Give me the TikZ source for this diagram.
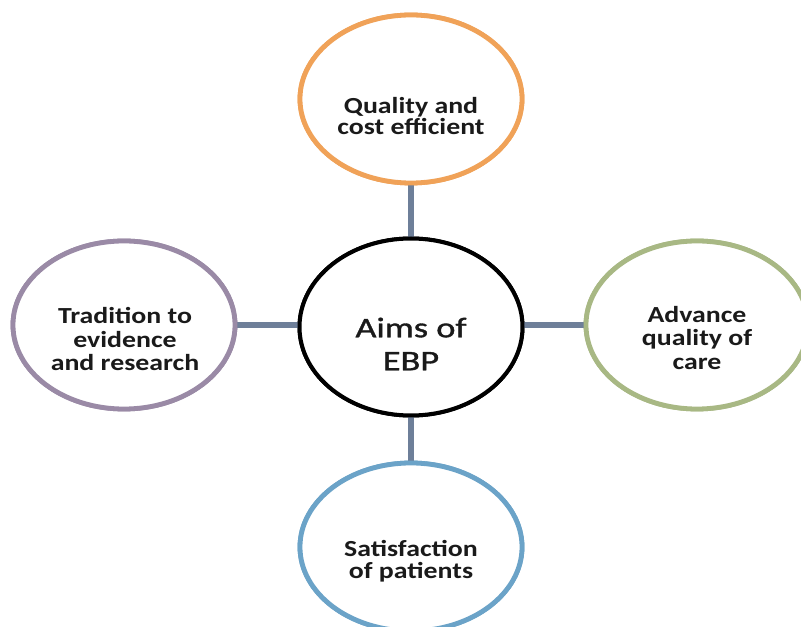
\documentclass[tikz,border=0pt]{standalone}
\usepackage{fontspec}
\usetikzlibrary{shapes.geometric}
\newfontfamily\outerfont[FakeStretch=1.21]{Carlito}
\newfontfamily\centerfont[FakeStretch=1.28,FakeBold=1.2]{Carlito}
\definecolor{conn}{HTML}{6E7F99}
\definecolor{orangeo}{HTML}{F0A258}
\definecolor{purpleo}{HTML}{9A8AA6}
\definecolor{greeno}{HTML}{A8B884}
\definecolor{blueo}{HTML}{6BA3C8}
\definecolor{txt}{HTML}{1A1A1A}
\tikzset{
  bubble/.style={ellipse, draw, line width=3.6pt, fill=white, minimum width=166.5pt, minimum height=126pt, inner sep=0pt, outer sep=0pt},
  hub/.style={ellipse, draw=black, line width=3pt, fill=white, minimum width=167.25pt, minimum height=132.75pt, inner sep=0pt, outer sep=0pt},
  outertext/.style={align=center, text=txt, font=\outerfont\bfseries\fontsize{17.25}{16.3}\selectfont, inner sep=0pt},
  outertextwide/.style={align=center, text=txt, font=\outerfont\bfseries\fontsize{17.25}{17.4}\selectfont, inner sep=0pt},
  hubtext/.style={align=center, text=txt, font=\centerfont\fontsize{21.3}{24.75}\selectfont, inner sep=0pt},
  link/.style={draw=conn, line width=4.5pt}
}
\begin{document}
\begin{tikzpicture}[x=0.75pt,y=-0.75pt]
\useasboundingbox (0,0) rectangle (801,627);
\fill[white] (0,0) rectangle (801,627);
\node[hub] (c) at (411,327) {};
\node[bubble, draw=orangeo] (t) at (411,99) {};
\node[bubble, draw=purpleo] (l) at (124,325) {};
\node[bubble, draw=greeno] (r) at (697,325) {};
\node[bubble, draw=blueo] (b) at (411,547) {};
\coordinate (cw) at (c.west |- l.east);
\coordinate (ce) at (c.east |- r.west);
\path[link] (c.north) -- (t.south);
\path[link] (cw) -- (l.east);
\path[link] (ce) -- (r.west);
\path[link] (c.south) -- (b.north);
\node[hub, draw=black] at (c) {};
\node[bubble, draw=orangeo] at (t) {};
\node[bubble, draw=purpleo] at (l) {};
\node[bubble, draw=greeno] at (r) {};
\node[bubble, draw=blueo] at (b) {};
\node[hubtext] (ct) at (411,344) {Aims of\\EBP};
\node[outertext] (tt) at (411,116) {Quality and\\cost efficient};
\node[outertextwide] (lt) at (125,339) {Tradition to\\evidence\\and research};
\node[outertextwide] (rt) at (697,338) {Advance\\quality of\\care};
\node[outertext] (bt) at (411,561) {Satisfaction\\of patients};
\end{tikzpicture}
\end{document}
